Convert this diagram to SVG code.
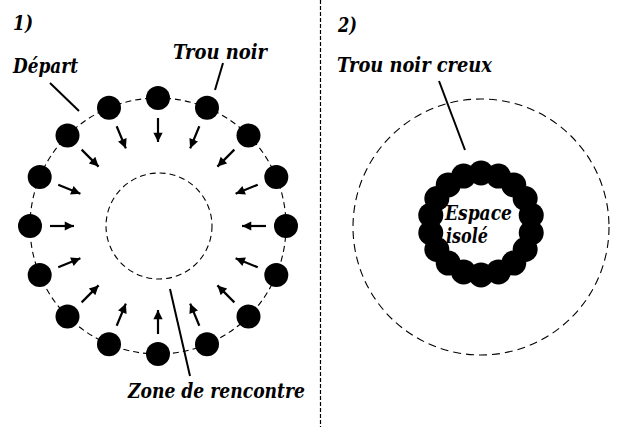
<svg xmlns="http://www.w3.org/2000/svg" width="641" height="427" viewBox="0 0 641 427">
<defs>
<style>
text{font-family:"DejaVu Serif","Liberation Serif",serif;font-weight:700;font-style:italic;font-size:21px;fill:#000}
.dash{fill:none;stroke:#000;stroke-width:1.1;stroke-dasharray:6 4}
.dash2{fill:none;stroke:#000;stroke-width:1.1;stroke-dasharray:8 5}
.dot{fill:#000}
.ptr{stroke:#000;stroke-width:2;fill:none}
.arr{stroke:#000;stroke-width:2.2;fill:none;marker-end:url(#ah)}
</style>
<marker id="ah" viewBox="0 0 10 10" refX="10" refY="5" markerWidth="4.6" markerHeight="4.2" orient="auto" markerUnits="strokeWidth">
<path d="M0,0 L10,5 L0,10 Z" fill="#000"/>
</marker>
</defs>
<rect width="641" height="427" fill="#fff"/>
<line x1="320.5" y1="0" x2="320.5" y2="427" stroke="#000" stroke-width="1.2" stroke-dasharray="4 2"/>
<g id="panel1">
<text x="13" y="30" textLength="20" lengthAdjust="spacingAndGlyphs">1)</text>
<g id="outer-circle-1"><circle class="dash" cx="158" cy="226" r="128"/></g>
<g id="zone-rencontre-circle"><circle class="dash" cx="159" cy="226" r="53"/></g>
<g id="dots-1">
<circle class="dot" cx="158" cy="98" r="12"/>
<circle class="dot" cx="207" cy="107.7" r="12"/>
<circle class="dot" cx="248.5" cy="135.5" r="12"/>
<circle class="dot" cx="276.3" cy="177" r="12"/>
<circle class="dot" cx="286" cy="226" r="12"/>
<circle class="dot" cx="276.3" cy="275" r="12"/>
<circle class="dot" cx="248.5" cy="316.5" r="12"/>
<circle class="dot" cx="207" cy="344.3" r="12"/>
<circle class="dot" cx="158" cy="354" r="12"/>
<circle class="dot" cx="109" cy="344.3" r="12"/>
<circle class="dot" cx="67.5" cy="316.5" r="12"/>
<circle class="dot" cx="39.7" cy="275" r="12"/>
<circle class="dot" cx="30" cy="226" r="12"/>
<circle class="dot" cx="39.7" cy="177" r="12"/>
<circle class="dot" cx="67.5" cy="135.5" r="12"/>
<circle class="dot" cx="109" cy="107.7" r="12"/>
</g>
<g id="connectors-1">
<line class="arr" x1="158" y1="118" x2="158" y2="142"/>
<line class="arr" x1="199.33" y1="126.22" x2="190.15" y2="148.39"/>
<line class="arr" x1="234.37" y1="149.63" x2="217.4" y2="166.6"/>
<line class="arr" x1="257.78" y1="184.67" x2="235.61" y2="193.85"/>
<line class="arr" x1="266" y1="226" x2="242" y2="226"/>
<line class="arr" x1="257.78" y1="267.33" x2="235.61" y2="258.15"/>
<line class="arr" x1="234.37" y1="302.37" x2="217.4" y2="285.4"/>
<line class="arr" x1="199.33" y1="325.78" x2="190.15" y2="303.61"/>
<line class="arr" x1="158" y1="334" x2="158" y2="310"/>
<line class="arr" x1="116.67" y1="325.78" x2="125.85" y2="303.61"/>
<line class="arr" x1="81.63" y1="302.37" x2="98.6" y2="285.4"/>
<line class="arr" x1="58.22" y1="267.33" x2="80.39" y2="258.15"/>
<line class="arr" x1="50" y1="226" x2="74" y2="226"/>
<line class="arr" x1="58.22" y1="184.67" x2="80.39" y2="193.85"/>
<line class="arr" x1="81.63" y1="149.63" x2="98.6" y2="166.6"/>
<line class="arr" x1="116.67" y1="126.22" x2="125.85" y2="148.39"/>
<line class="ptr" x1="50" y1="83" x2="79" y2="111"/>
<line class="ptr" x1="223" y1="63" x2="215" y2="90"/>
<line class="ptr" x1="170" y1="289" x2="190" y2="376"/>
</g>
<text x="13" y="73" textLength="65" lengthAdjust="spacingAndGlyphs">Départ</text>
<text x="173" y="59" textLength="94" lengthAdjust="spacingAndGlyphs">Trou noir</text>
<text x="128" y="398" textLength="177" lengthAdjust="spacingAndGlyphs">Zone de rencontre</text>
</g>
<g id="panel2">
<text x="338" y="32" textLength="19" lengthAdjust="spacingAndGlyphs">2)</text>
<g id="outer-circle-2"><circle class="dash2" cx="481" cy="227" r="128"/></g>
<g id="hollow-black-hole">
<circle class="dot" cx="481" cy="173" r="12.5"/>
<circle class="dot" cx="498.44" cy="176.08" r="12.5"/>
<circle class="dot" cx="513.78" cy="184.93" r="12.5"/>
<circle class="dot" cx="525.17" cy="198.5" r="12.5"/>
<circle class="dot" cx="531.23" cy="215.14" r="12.5"/>
<circle class="dot" cx="531.23" cy="232.86" r="12.5"/>
<circle class="dot" cx="525.17" cy="249.5" r="12.5"/>
<circle class="dot" cx="513.78" cy="263.07" r="12.5"/>
<circle class="dot" cx="498.44" cy="271.92" r="12.5"/>
<circle class="dot" cx="481" cy="275" r="12.5"/>
<circle class="dot" cx="463.56" cy="271.92" r="12.5"/>
<circle class="dot" cx="448.22" cy="263.07" r="12.5"/>
<circle class="dot" cx="436.83" cy="249.5" r="12.5"/>
<circle class="dot" cx="430.77" cy="232.86" r="12.5"/>
<circle class="dot" cx="430.77" cy="215.14" r="12.5"/>
<circle class="dot" cx="436.83" cy="198.5" r="12.5"/>
<circle class="dot" cx="448.22" cy="184.93" r="12.5"/>
<circle class="dot" cx="463.56" cy="176.08" r="12.5"/>
</g>
<g id="connectors-2">
<line class="ptr" x1="439" y1="81" x2="465" y2="150"/>
</g>
<text x="337" y="72" textLength="155" lengthAdjust="spacingAndGlyphs">Trou noir creux</text>
<text x="445" y="220" textLength="67" lengthAdjust="spacingAndGlyphs">Espace</text>
<text x="446" y="243" textLength="42" lengthAdjust="spacingAndGlyphs">isolé</text>
</g>
</svg>
